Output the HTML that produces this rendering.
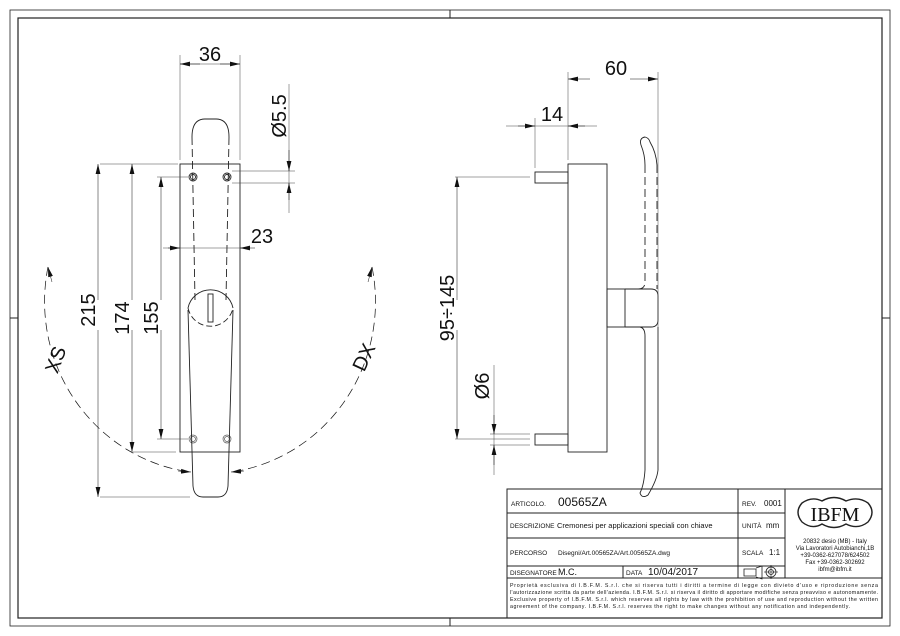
<!DOCTYPE html>
<html><head><meta charset="utf-8"><style>
body{margin:0;background:#fff}
svg{display:block}
text{font-family:"Liberation Sans",sans-serif;fill:#111}
.t{font-family:"Liberation Sans",sans-serif;fill:#111}
</style></head><body>
<svg width="900" height="636" viewBox="0 0 900 636" xmlns="http://www.w3.org/2000/svg">
<defs>
<marker id="a" markerWidth="10" markerHeight="6" refX="10" refY="3" orient="auto" markerUnits="userSpaceOnUse"><path d="M0,0.6 L10,3 L0,5.4Z" fill="#111"/></marker>
</defs>
<g fill="none" stroke="#222">
<rect x="10" y="10" width="880" height="616" stroke-width="0.8"/>
<rect x="18" y="18" width="864" height="600" stroke-width="1.2"/>
<line x1="450" y1="10" x2="450" y2="18"/><line x1="450" y1="618" x2="450" y2="626"/>
<line x1="10" y1="318" x2="18" y2="318"/><line x1="882" y1="318" x2="890" y2="318"/>
</g>

<!-- LEFT VIEW -->
<g fill="none" stroke="#222" stroke-width="0.9">
<rect x="180" y="164" width="60" height="288"/>
<path d="M192,137 Q192,119 205,119 L216,119 Q229,119 229,137"/>
<path d="M192,137 L195,300 M229,137 L226,300" stroke-dasharray="8,4"/>
<circle cx="193" cy="177" r="4"/><circle cx="193" cy="177" r="2.5"/>
<circle cx="227" cy="177" r="4"/><circle cx="227" cy="177" r="2.5"/>
<circle cx="193" cy="439" r="4" stroke="#555" stroke-width="0.7"/><circle cx="193" cy="439" r="2.5" stroke="#555" stroke-width="0.7"/>
<circle cx="227" cy="439" r="4" stroke="#555" stroke-width="0.7"/><circle cx="227" cy="439" r="2.5" stroke="#555" stroke-width="0.7"/>
<path d="M188,308 A23,23 0 0 1 233,308"/>
<path d="M188,308 A23,23 0 0 0 233,308" stroke-dasharray="6,3"/>
<rect x="208" y="294" width="5" height="28"/>
<path d="M188,310 L193,486 Q194,497 203,497 L218,497 Q227,497 228,486 L233,310"/>
</g>
<g fill="none" stroke="#444" stroke-width="0.5">
<line x1="180" y1="55" x2="180" y2="160"/><line x1="240" y1="55" x2="240" y2="160"/>
<line x1="180" y1="64" x2="240" y2="64"/>
<line x1="100" y1="164" x2="178" y2="164"/><line x1="100" y1="497" x2="190" y2="497"/>
<line x1="133" y1="452" x2="176" y2="452"/>
<line x1="157" y1="177" x2="188" y2="177"/><line x1="157" y1="439" x2="188" y2="439"/>
<line x1="232" y1="171" x2="295" y2="171"/><line x1="232" y1="183" x2="295" y2="183"/>
<line x1="289" y1="84" x2="289" y2="213"/>
<line x1="163" y1="248" x2="242" y2="248"/>
</g>
<g stroke="#111" stroke-width="0.5" fill="none">
<line x1="200" y1="64" x2="180" y2="64" marker-end="url(#a)"/><line x1="220" y1="64" x2="240" y2="64" marker-end="url(#a)"/>
<line x1="98" y1="300" x2="98" y2="164" marker-end="url(#a)"/><line x1="98" y1="330" x2="98" y2="497" marker-end="url(#a)"/>
<line x1="132" y1="300" x2="132" y2="164" marker-end="url(#a)"/><line x1="132" y1="330" x2="132" y2="452" marker-end="url(#a)"/>
<line x1="161" y1="300" x2="161" y2="177" marker-end="url(#a)"/><line x1="161" y1="330" x2="161" y2="439" marker-end="url(#a)"/>
<line x1="289" y1="150" x2="289" y2="171" marker-end="url(#a)"/><line x1="289" y1="200" x2="289" y2="183" marker-end="url(#a)"/>
<line x1="168" y1="248" x2="180" y2="248" marker-end="url(#a)"/><line x1="255" y1="248" x2="240" y2="248" marker-end="url(#a)"/>
<path d="M48,267 A168,172 0 0 0 190,472" stroke-dasharray="9,5" stroke-width="0.7"/>
<path d="M372,267 A168,172 0 0 1 232,472" stroke-dasharray="9,5" stroke-width="0.7"/>
<line x1="52" y1="282" x2="48" y2="267" marker-end="url(#a)"/>
<line x1="368" y1="282" x2="372" y2="267" marker-end="url(#a)"/>
<line x1="178" y1="471" x2="191" y2="472" marker-end="url(#a)"/>
<line x1="244" y1="471" x2="231" y2="472" marker-end="url(#a)"/>
</g>
<g font-size="20">
<text x="210" y="61" text-anchor="middle">36</text>
<text x="262" y="243" text-anchor="middle">23</text>
<text transform="translate(95,310) rotate(-90)" text-anchor="middle">215</text>
<text transform="translate(129,318) rotate(-90)" text-anchor="middle">174</text>
<text transform="translate(158,318) rotate(-90)" text-anchor="middle">155</text>
<text transform="translate(286,116) rotate(-90)" text-anchor="middle">Ø5.5</text>
<text transform="translate(62,362) rotate(-70)" text-anchor="middle">XS</text>
<text transform="translate(370,360) rotate(-65)" text-anchor="middle">DX</text>
</g>

<!-- RIGHT VIEW -->
<g fill="none" stroke="#222" stroke-width="0.9">
<rect x="568" y="164" width="39" height="288"/>
<rect x="535" y="172" width="33" height="11"/>
<rect x="535" y="434" width="33" height="11"/>
<rect x="607" y="289" width="18" height="38"/>
<path d="M625,289 L651,289 Q658,289 658,296 L658,320 Q658,327 651,327 L625,327"/>
<path d="M640,327 Q645,328 645,336 L645,470 Q644,485 640,493 Q642,499 648,495 Q657,480 658,470 L658,327"/>
<path d="M641,145 Q639,138 645,137 Q649,138 650,142 Q656,152 657,165 M641,145 Q645,155 645,165"/>
<path d="M657,165 L657,289 M645,165 L645,282 Q645,289 638,289" stroke-dasharray="8,4"/>
</g>
<g fill="none" stroke="#444" stroke-width="0.5">
<line x1="568" y1="72" x2="568" y2="160"/><line x1="658" y1="72" x2="658" y2="340"/>
<line x1="535" y1="118" x2="535" y2="168"/>
<line x1="506" y1="126" x2="597" y2="126"/>
<line x1="455" y1="177" x2="530" y2="177"/><line x1="455" y1="439" x2="530" y2="439"/>
<line x1="490" y1="434" x2="530" y2="434"/><line x1="490" y1="445" x2="530" y2="445"/>
<line x1="494" y1="365" x2="494" y2="475"/>
</g>
<g stroke="#111" stroke-width="0.5" fill="none">
<line x1="590" y1="79" x2="568" y2="79" marker-end="url(#a)"/><line x1="630" y1="79" x2="658" y2="79" marker-end="url(#a)"/>
<line x1="518" y1="126" x2="535" y2="126" marker-end="url(#a)"/><line x1="585" y1="126" x2="568" y2="126" marker-end="url(#a)"/>
<line x1="457" y1="300" x2="457" y2="177" marker-end="url(#a)"/><line x1="457" y1="330" x2="457" y2="439" marker-end="url(#a)"/>
<line x1="494" y1="415" x2="494" y2="434" marker-end="url(#a)"/><line x1="494" y1="465" x2="494" y2="445" marker-end="url(#a)"/>
</g>
<g font-size="20">
<text x="616" y="75" text-anchor="middle">60</text>
<text x="552" y="121" text-anchor="middle">14</text>
<text transform="translate(454,308) rotate(-90)" text-anchor="middle">95÷145</text>
<text transform="translate(489,386) rotate(-90)" text-anchor="middle">Ø6</text>
</g>

<!-- TITLE BLOCK -->
<g fill="none" stroke="#222" stroke-width="1">
<rect x="507" y="489" width="375" height="129"/>
<line x1="507" y1="513" x2="785" y2="513"/>
<line x1="507" y1="538" x2="785" y2="538"/>
<line x1="507" y1="566" x2="785" y2="566"/>
<line x1="507" y1="578" x2="882" y2="578"/>
<line x1="738" y1="489" x2="738" y2="578"/>
<line x1="785" y1="489" x2="785" y2="578"/>
<line x1="623" y1="566" x2="623" y2="578"/>
<path d="M802,503 Q812,496 822,501 Q834,494 846,501 Q858,496 868,503 Q876,512 868,522 Q858,530 846,524 Q834,531 822,524 Q812,530 802,522 Q794,512 802,503Z" stroke-width="1.4"/>
<path d="M744,569 L756,569 L756,576 L744,576 Z M756,568 L762,566 L762,579 L756,577" stroke-width="0.8"/>
<circle cx="771" cy="572" r="5" stroke-width="0.8"/><circle cx="771" cy="572" r="2.5" stroke-width="0.8"/>
<line x1="764" y1="572" x2="778" y2="572" stroke-width="0.6"/><line x1="771" y1="565" x2="771" y2="579" stroke-width="0.6"/>
</g>
<g class="t" font-size="6.5">
<text x="511" y="506">ARTICOLO.</text>
<text x="558" y="506" font-size="12">00565ZA</text>
<text x="742" y="506">REV.</text><text x="764" y="506" font-size="8">0001</text>
<text x="510" y="528">DESCRIZIONE</text>
<text x="557" y="528" font-size="7.5">Cremonesi per applicazioni speciali con chiave</text>
<text x="742" y="528">UNITÀ</text><text x="766" y="528" font-size="8">mm</text>
<text x="510" y="555">PERCORSO</text>
<text x="558" y="555" font-size="6.5">Disegni/Art.00565ZA/Art.00565ZA.dwg</text>
<text x="742" y="555">SCALA</text><text x="769" y="555" font-size="8">1:1</text>
<text x="510" y="575">DISEGNATORE</text><text x="558" y="575" font-size="9">M.C.</text>
<text x="626" y="575">DATA</text><text x="648" y="575" font-size="10">10/04/2017</text>
<text x="835" y="521" font-size="20" text-anchor="middle" style="font-family:'Liberation Serif',serif">IBFM</text>
<g font-size="6" text-anchor="middle">
<text x="835" y="543">20832 desio (MB) - Italy</text>
<text x="835" y="550">Via Lavoratori Autobianchi,1B</text>
<text x="835" y="557">+39-0362-627078/624502</text>
<text x="835" y="564">Fax +39-0362-302692</text>
<text x="835" y="571">ibfm@ibfm.it</text>
</g>
<g font-size="5.3">
<text x="510" y="587" textLength="368">Proprietà esclusiva di I.B.F.M. S.r.l. che si riserva tutti i diritti a termine di legge con divieto d'uso e riproduzione senza</text>
<text x="510" y="594" textLength="368">l'autorizzazione scritta da parte dell'azienda. I.B.F.M. S.r.l. si riserva il diritto di apportare modifiche senza preavviso e autonomamente.</text>
<text x="510" y="601" textLength="368">Exclusive property of I.B.F.M. S.r.l. which reserves all rights by law with the prohibition of use and reproduction without the written</text>
<text x="510" y="608" textLength="340">agreement of the company. I.B.F.M. S.r.l. reserves the right to make changes without any notification and independently.</text>
</g>
</g>
</svg>
</body></html>
